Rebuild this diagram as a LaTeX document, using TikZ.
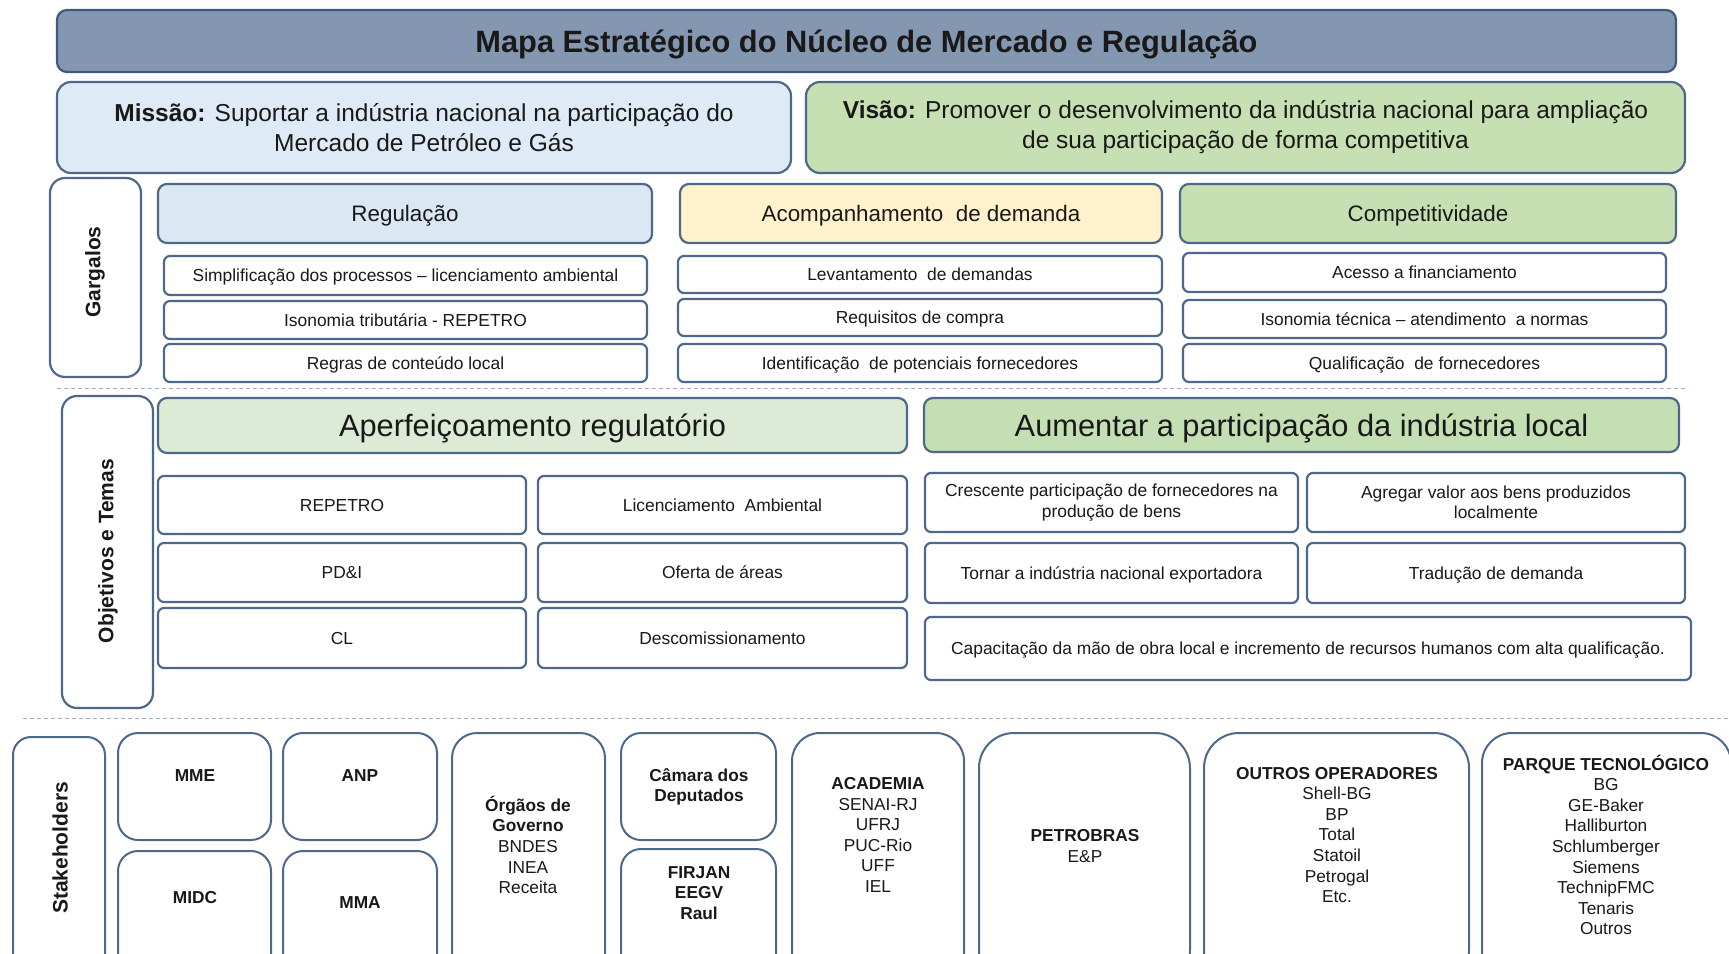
\documentclass[tikz,border=0pt]{standalone}
\usepackage{fontspec}
\setmainfont{Liberation Sans}
\definecolor{bcol}{RGB}{78,104,138}
\definecolor{titlefill}{RGB}{132,151,176}
\definecolor{titlebord}{RGB}{62,90,125}
\definecolor{missfill}{RGB}{222,235,247}
\definecolor{visfill}{RGB}{198,224,180}
\definecolor{regfill}{RGB}{220,231,244}
\definecolor{acofill}{RGB}{255,242,204}
\definecolor{comfill}{RGB}{198,224,180}
\definecolor{aperfill}{RGB}{221,235,214}
\definecolor{aumfill}{RGB}{197,223,180}
\definecolor{dashcol}{RGB}{160,172,190}
\definecolor{txt}{RGB}{25,25,25}
\newcommand\fsz[2]{\fontsize{#1}{#2}\selectfont}
\newcommand\bx[7]{\node[#6, minimum width={(#4)-(#2)}, minimum height={(#5)-(#3)}] (#1) at ({((#2)+(#4))/2},{((#3)+(#5))/2}) {#7};}
\begin{document}
\begin{tikzpicture}[x=1pt,y=-1pt,
  box/.style={draw=bcol, line width=2.2pt, inner sep=0pt, outer sep=0pt, align=center, text=txt, fill=white},
  titlebox/.style={box, draw=titlebord, fill=titlefill, rounded corners=10pt, font=\bfseries\fsz{30.8}{36}, text height=22pt, text depth=0pt},
  mvbox/.style={box, rounded corners=14pt, font=\fsz{24.5}{30}},
  headbox/.style={box, rounded corners=9pt, font=\fsz{22.4}{27}, text height=16pt, text depth=0pt},
  itembox/.style={box, rounded corners=6pt, font=\fsz{17.4}{20.5}, text height=12.5pt, text depth=0pt},
  itemboxtwo/.style={box, rounded corners=6pt, font=\fsz{17.4}{20.5}},
  sidebox/.style={box, rounded corners=15pt},
  sidelbl/.style={rotate=90, font=\bfseries\fsz{21}{25}, text=txt, inner sep=0pt},
  bigbox/.style={box, rounded corners=9pt, font=\fsz{30.8}{36}, text height=22pt, text depth=0pt},
  stkbox/.style={box, line width=2pt},
  stxt/.style={align=center, text=txt, font=\fsz{17.3}{20.6}, inner sep=0pt},
  sepline/.style={draw=dashcol, line width=1pt, dash pattern=on 4pt off 3pt}]
\useasboundingbox (0,0) rectangle (1729,953);
\fill[white] (0,0) rectangle (1729,953);
\begin{scope}
\clip (0,0) rectangle (1729,953);
% title
\bx{title}{57}{10}{1676}{72}{titlebox}{Mapa Estratégico do Núcleo de Mercado e Regulação}
% mission / vision
\bx{missao}{57}{82}{791}{173}{mvbox, fill=missfill}{\textbf{Missão:} Suportar a indústria nacional na participação do\\Mercado de Petróleo e Gás}
\bx{visao}{806}{82}{1685}{173}{mvbox, fill=visfill}{\textbf{Visão:} Promover o desenvolvimento da indústria nacional para ampliação\\de sua participação de forma competitiva}
% gargalos
\bx{garg}{50}{178}{141}{377}{sidebox}{}
\node[sidelbl] (gargl) at (95,272) {Gargalos};
\bx{reg}{158}{184}{652}{243}{headbox, fill=regfill}{Regulação}
\bx{aco}{680}{184}{1162}{243}{headbox, fill=acofill}{Acompanhamento\ \ de demanda}
\bx{com}{1180}{184}{1676}{243}{headbox, fill=comfill}{Competitividade}
\bx{reg1}{164}{256}{647}{295}{itembox}{Simplificação dos processos – licenciamento ambiental}
\bx{reg2}{164}{301}{647}{339}{itembox}{Isonomia tributária - REPETRO}
\bx{reg3}{164}{344}{647}{382}{itembox}{Regras de conteúdo local}
\bx{aco1}{678}{256}{1162}{293}{itembox}{Levantamento\ \ de demandas}
\bx{aco2}{678}{299}{1162}{336}{itembox}{Requisitos de compra}
\bx{aco3}{678}{344}{1162}{382}{itembox}{Identificação\ \ de potenciais fornecedores}
\bx{com1}{1183}{253}{1666}{292}{itembox}{Acesso a financiamento}
\bx{com2}{1183}{300}{1666}{338}{itembox}{Isonomia técnica – atendimento\ \ a normas}
\bx{com3}{1183}{344}{1666}{382}{itembox}{Qualificação\ \ de fornecedores}
\coordinate (s1a) at (57,388);
\coordinate (s1b) at (1686,388);
\draw[sepline] (s1a) -- (s1b);
% objetivos
\bx{obj}{62}{396}{153}{708}{sidebox}{}
\node[sidelbl] (objl) at (108,551) {Objetivos e Temas};
\bx{aper}{158}{398}{907}{453}{bigbox, fill=aperfill}{Aperfeiçoamento regulatório}
\bx{aum}{924}{398}{1679}{452}{bigbox, fill=aumfill}{Aumentar a participação da indústria local}
\bx{o1}{158}{476}{526}{534}{itembox}{REPETRO}
\bx{o2}{538}{476}{907}{534}{itembox}{Licenciamento\ \ Ambiental}
\bx{o3}{158}{543}{526}{602}{itembox}{PD\&I}
\bx{o4}{538}{543}{907}{602}{itembox}{Oferta de áreas}
\bx{o5}{158}{608}{526}{668}{itembox}{CL}
\bx{o6}{538}{608}{907}{668}{itembox}{Descomissionamento}
\bx{p1}{925}{473}{1298}{532}{itemboxtwo}{\raisebox{-2pt}{Crescente participação de fornecedores na}\\\raisebox{-2pt}{produção de bens}}
\bx{p2}{1307}{473}{1685}{532}{itemboxtwo}{Agregar valor aos bens produzidos\\localmente}
\bx{p3}{925}{543}{1298}{603}{itembox}{Tornar a indústria nacional exportadora}
\bx{p4}{1307}{543}{1685}{603}{itembox}{Tradução de demanda}
\bx{p5}{925}{617}{1691}{680}{itembox}{Capacitação da mão de obra local e incremento de recursos humanos com alta qualificação.}
\coordinate (s2a) at (23,718);
\coordinate (s2b) at (1729,718);
\draw[sepline] (s2a) -- (s2b);
% stakeholders
\bx{stk}{13}{737}{105}{985}{stkbox, rounded corners=18pt}{}
\node[sidelbl] (stkl) at (60,848) {Stakeholders};
\bx{mme}{118}{733}{271}{840}{stkbox, rounded corners=20pt}{}
\node[stxt, font=\bfseries\fsz{17.3}{20.6}] (mmel) at (195,776) {MME};
\bx{anp}{283}{733}{437}{840}{stkbox, rounded corners=20pt}{}
\node[stxt, font=\bfseries\fsz{17.3}{20.6}] (anpl) at (360,776) {ANP};
\bx{midc}{118}{851}{271}{985}{stkbox, rounded corners=20pt}{}
\node[stxt, font=\bfseries\fsz{17.3}{20.6}] (midcl) at (195,898) {MIDC};
\bx{mma}{283}{851}{437}{985}{stkbox, rounded corners=20pt}{}
\node[stxt, font=\bfseries\fsz{17.3}{20.6}] (mmal) at (360,903) {MMA};
\bx{org}{452}{733}{605}{985}{stkbox, rounded corners=25pt}{}
\node[stxt] (orgl) at (528,845) {\textbf{Órgãos de}\\\textbf{Governo}\\BNDES\\INEA\\Receita};
\bx{cam}{621}{733}{776}{840}{stkbox, rounded corners=20pt}{}
\node[stxt, font=\bfseries\fsz{17.3}{20.6}] (caml) at (699,787) {Câmara dos\\Deputados};
\bx{fir}{621}{849}{776}{985}{stkbox, rounded corners=20pt}{}
\node[stxt, font=\bfseries\fsz{17.3}{20.6}] (firl) at (699,893) {FIRJAN\\EEGV\\Raul};
\bx{aca}{792}{733}{964}{985}{stkbox, rounded corners=28pt}{}
\node[stxt] (acal) at (878,835) {\textbf{ACADEMIA}\\SENAI-RJ\\UFRJ\\PUC-Rio\\UFF\\IEL};
\bx{pet}{979}{733}{1190}{985}{stkbox, rounded corners=35pt}{}
\node[stxt] (petl) at (1085,846) {\textbf{PETROBRAS}\\E\&P};
\bx{out}{1204}{733}{1469}{985}{stkbox, rounded corners=35pt}{}
\node[stxt] (outl) at (1337,835) {\textbf{OUTROS OPERADORES}\\Shell-BG\\BP\\Total\\Statoil\\Petrogal\\Etc.};
\bx{par}{1482}{733}{1731}{985}{stkbox, rounded corners=30pt}{}
\node[stxt] (parl) at (1606,845) {\textbf{PARQUE TECNOLÓGICO}\\BG\\GE-Baker\\Halliburton\\Schlumberger\\Siemens\\TechnipFMC\\Tenaris\\Outros};
\end{scope}
\end{tikzpicture}
\end{document}
